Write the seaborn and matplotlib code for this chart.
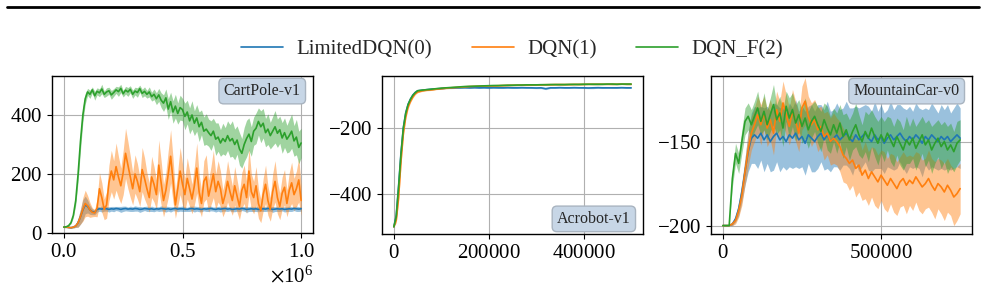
# learning curves for three gym environments, mean with shaded spread
import numpy as np
import seaborn as sns
from matplotlib import pyplot as plt
from matplotlib.lines import Line2D

labels = ["LimitedDQN(0)", "DQN(1)", "DQN_F(2)"]
colors = ["#1f77b4", "#ff7f0e", "#2ca02c"]

# CartPole-v1, one value every 10000 steps
cart_steps = np.arange(0, 1000001, 10000)
cart_blue = [20, 20, 19, 18, 20, 24, 35, 55, 78, 95,
             90, 78, 72, 70, 80, 82, 81, 83, 82, 80,
             82, 81, 83, 82, 80, 82, 83, 81, 82, 81,
             83, 82, 80, 81, 83, 82, 81, 82, 80, 82,
             81, 83, 82, 81, 82, 80, 82, 83, 81, 82,
             82, 81, 80, 82, 83, 81, 82, 81, 80, 82,
             81, 82, 83, 81, 80, 82, 81, 82, 83, 81,
             82, 80, 81, 82, 81, 83, 82, 80, 81, 82,
             81, 82, 80, 81, 82, 81, 83, 82, 80, 81,
             82, 81, 82, 80, 81, 82, 81, 83, 82, 81,
             82]
cart_blue_sd = [2, 2, 2, 2, 3, 5, 15, 25, 35, 30,
                22, 15, 10, 8, 9, 8, 10, 9, 8, 9,
                8, 9, 7, 8, 10, 9, 8, 7, 9, 8,
                9, 8, 10, 8, 7, 9, 8, 9, 8, 7,
                8, 9, 8, 10, 8, 9, 7, 8, 9, 8,
                9, 8, 7, 9, 8, 10, 8, 9, 8, 7,
                8, 9, 8, 7, 9, 8, 10, 8, 9, 8,
                7, 8, 9, 8, 9, 7, 8, 10, 8, 9,
                8, 9, 8, 7, 9, 8, 9, 8, 10, 8,
                9, 8, 7, 9, 8, 9, 8, 7, 9, 8,
                8]
cart_orange = [20, 20, 19, 18, 20, 24, 35, 55, 80, 100,
               92, 78, 70, 68, 85, 150, 120, 80, 95, 170,
               210, 180, 225, 190, 160, 205, 270, 230, 190, 150,
               200, 175, 140, 215, 185, 150, 120, 190, 165, 130,
               230, 170, 110, 145, 200, 260, 180, 95, 150, 210,
               165, 130, 185, 150, 115, 160, 220, 140, 100, 175,
               190, 125, 160, 200, 140, 175, 150, 100, 130, 175,
               140, 110, 160, 125, 90, 145, 165, 120, 210, 140,
               120, 160, 100, 75, 130, 165, 110, 80, 140, 175,
               120, 90, 135, 155, 100, 145, 170, 130, 150, 180,
               110]
cart_orange_sd = [2, 2, 2, 2, 3, 5, 15, 25, 40, 45,
                  35, 25, 15, 12, 30, 55, 50, 35, 45, 60,
                  70, 65, 80, 70, 60, 75, 85, 80, 70, 55,
                  65, 60, 50, 75, 70, 55, 50, 70, 60, 50,
                  85, 75, 55, 60, 80, 90, 75, 45, 60, 80,
                  70, 55, 70, 60, 50, 65, 85, 60, 45, 70,
                  75, 55, 65, 80, 60, 70, 60, 45, 55, 70,
                  60, 50, 65, 55, 45, 60, 65, 55, 80, 60,
                  55, 65, 50, 40, 55, 65, 50, 40, 60, 70,
                  55, 45, 55, 60, 45, 60, 70, 55, 60, 75,
                  50]
cart_green = [20, 21, 25, 35, 60, 110, 200, 310, 400, 455,
              478, 470, 485, 465, 480, 475, 488, 470, 478, 482,
              468, 476, 485, 479, 490, 472, 484, 478, 487, 470,
              481, 476, 489, 473, 480, 470, 478, 462, 470, 455,
              468, 450, 440, 458, 420, 445, 410, 430, 405, 425,
              418, 395, 410, 380, 400, 372, 390, 360, 375, 345,
              352, 340, 330, 345, 318, 325, 305, 320, 310, 330,
              312, 320, 300, 315, 285, 270, 300, 320, 335, 310,
              345, 355, 378, 360, 372, 340, 352, 330, 345, 360,
              338, 350, 322, 340, 318, 330, 345, 312, 325, 290,
              305]
cart_green_sd = [1, 1, 2, 4, 8, 15, 25, 30, 25, 18,
                 12, 14, 10, 15, 12, 13, 16, 11, 14, 12,
                 15, 13, 12, 16, 14, 11, 13, 15, 12, 14,
                 13, 16, 12, 14, 15, 13, 17, 15, 18, 20,
                 22, 25, 28, 30, 35, 32, 38, 40, 36, 42,
                 38, 45, 40, 44, 48, 42, 45, 50, 42, 48,
                 52, 46, 50, 44, 55, 48, 45, 52, 47, 50,
                 55, 60, 52, 48, 55, 50, 58, 62, 55, 50,
                 48, 52, 46, 54, 50, 48, 52, 45, 50, 55,
                 48, 46, 52, 50, 47, 55, 58, 52, 60, 55,
                 50]

# Acrobot-v1, finer steps during the early rise
acro_steps = np.r_[np.arange(0, 50001, 5000), np.arange(60000, 500001, 10000)]
acro_blue = [-500, -465, -375, -275, -198, -153, -127, -111, -99, -91, -86,
             -84, -82.5, -81, -80, -79, -78, -77.5, -77, -77, -76.5,
             -77, -76.5, -77, -76.5, -77, -76.5, -77, -77, -76.5, -77,
             -77, -76.5, -77, -77, -77.5, -77, -79.5, -77, -77, -76.5,
             -77, -77, -76.5, -77, -77, -77.5, -77, -76.5, -77, -77,
             -77, -77, -76.5, -77, -77]
acro_blue_sd = [0, 6, 10, 10, 8, 6, 4, 3, 3, 2, 2,
                2, 2, 1.5, 2, 2, 1.5, 2, 2, 1.5, 2,
                2, 1.5, 2, 2, 2.5, 2, 1.5, 2, 2, 2,
                2, 2, 1.5, 2, 2, 2.5, 3, 2, 2, 1.5,
                2, 2, 2, 1.5, 2, 2, 2.5, 2, 2, 1.5,
                2, 2, 1.5, 2, 2]
acro_orange = [-500, -480, -410, -300, -215, -165, -135, -118, -105, -95, -90,
               -86, -84, -83, -81, -79.5, -78, -77, -76, -75, -74,
               -73, -72.5, -72, -71.5, -71, -71, -70.5, -70, -69.5, -69,
               -69, -68.5, -68.5, -68, -68, -68, -67.5, -67.5, -67, -67,
               -67, -67, -66.5, -66.5, -66.5, -66, -66, -66, -66, -66,
               -66, -66, -65.5, -66, -66]
acro_orange_sd = [0, 8, 14, 14, 10, 8, 6, 4, 3, 3, 2,
                  2, 2, 2, 1.5, 2, 2, 1.5, 2, 2, 1.5,
                  2, 2, 1.5, 2, 2, 2, 1.5, 2, 2, 2,
                  1.5, 2, 2, 2, 1.5, 2, 2, 1.5, 2, 2,
                  2, 1.5, 2, 2, 1.5, 2, 2, 2, 1.5, 2,
                  2, 2, 1.5, 2, 2]
acro_green = [-500, -470, -380, -280, -200, -155, -128, -112, -100, -92, -86,
              -84, -82.5, -81, -79.5, -78, -77, -76, -75, -74, -73,
              -72.5, -72, -71.5, -71, -70.5, -70, -70, -69.5, -69, -69,
              -68.5, -68.5, -68, -68, -68, -67.5, -67.5, -67, -67, -67,
              -67, -66.5, -66.5, -66.5, -66, -66, -66, -66, -66, -65.5,
              -65.5, -66, -65.5, -65.5, -65.5]
acro_green_sd = [0, 6, 10, 10, 8, 6, 4, 3, 3, 2, 2,
                 2, 1.5, 2, 2, 1.5, 2, 2, 1.5, 2, 2,
                 1.5, 2, 2, 2, 1.5, 2, 2, 1.5, 2, 2,
                 2, 1.5, 2, 2, 2, 1.5, 2, 2, 1.5, 2,
                 2, 2, 1.5, 2, 2, 1.5, 2, 2, 2, 1.5,
                 2, 2, 1.5, 2, 2]

# MountainCar-v0, one value every 10000 steps
car_steps = np.arange(0, 750001, 10000)
car_blue = [-200, -200, -200, -199, -196, -190, -180, -168, -156, -148,
            -146, -148, -145, -149, -146, -150, -147, -145, -149, -147,
            -150, -146, -148, -145, -149, -147, -151, -146, -148, -150,
            -147, -145, -149, -146, -150, -148, -146, -149, -147, -145,
            -148, -150, -146, -149, -147, -145, -148, -150, -146, -149,
            -147, -151, -148, -146, -149, -147, -145, -148, -150, -147,
            -149, -146, -148, -151, -147, -149, -146, -148, -150, -147,
            -149, -147, -150, -148, -146, -148]
car_blue_sd = [0, 0, 0, 1, 2, 4, 6, 8, 12, 15,
               17, 18, 16, 19, 17, 18, 20, 17, 19, 18,
               17, 19, 18, 20, 17, 18, 19, 17, 20, 18,
               19, 17, 18, 20, 18, 17, 19, 18, 17, 19,
               18, 20, 17, 19, 18, 17, 19, 18, 20, 17,
               19, 18, 17, 20, 18, 19, 17, 18, 19, 18,
               17, 19, 18, 20, 17, 18, 19, 18, 17, 19,
               18, 19, 17, 18, 19, 18]
car_orange = [-200, -200, -200, -199, -197, -191, -182, -168, -155, -145,
              -140, -134, -140, -133, -142, -137, -145, -131, -138, -127,
              -134, -141, -132, -138, -145, -130, -126, -135, -140, -137,
              -143, -141, -147, -145, -150, -148, -150, -153, -158, -160,
              -163, -161, -166, -164, -170, -167, -172, -168, -171, -174,
              -170, -173, -176, -172, -175, -178, -174, -172, -176, -173,
              -175, -171, -174, -177, -175, -172, -176, -179, -175, -177,
              -180, -176, -179, -183, -181, -178]
car_orange_sd = [0, 0, 0, 1, 2, 4, 6, 8, 10, 10,
                 10, 11, 12, 10, 11, 12, 13, 11, 12, 13,
                 12, 11, 13, 12, 11, 13, 14, 12, 13, 12,
                 13, 12, 14, 13, 14, 15, 14, 15, 16, 15,
                 16, 15, 17, 16, 15, 17, 16, 15, 17, 16,
                 15, 17, 16, 15, 17, 16, 15, 16, 17, 15,
                 16, 15, 17, 16, 15, 17, 16, 17, 15, 16,
                 17, 16, 15, 17, 16, 15]
car_green = [-200, -200, -200, -172, -157, -163, -150, -138, -135, -140,
             -135, -130, -138, -132, -140, -134, -128, -137, -133, -142,
             -129, -136, -131, -139, -134, -141, -136, -143, -138, -135,
             -140, -144, -137, -142, -146, -140, -145, -139, -147, -143,
             -149, -144, -140, -146, -150, -144, -148, -142, -147, -151,
             -146, -150, -145, -149, -153, -147, -151, -155, -149, -152,
             -148, -154, -150, -146, -152, -149, -155, -151, -148, -153,
             -150, -155, -152, -156, -151, -149]
car_green_sd = [0, 0, 0, 5, 6, 6, 7, 8, 8, 9,
                9, 10, 8, 11, 9, 10, 12, 9, 10, 11,
                9, 12, 10, 11, 9, 10, 12, 11, 10, 9,
                11, 12, 10, 13, 11, 10, 12, 11, 13, 10,
                12, 11, 13, 12, 10, 12, 14, 11, 12, 13,
                11, 12, 10, 13, 12, 11, 13, 12, 14, 11,
                12, 13, 12, 11, 13, 12, 14, 12, 11, 13,
                12, 14, 13, 12, 13, 12]


def draw_panel(ax, steps, means, sds):
    # one shaded band plus mean line per method
    for mean, sd, c in zip(means, sds, colors):
        mean = np.asarray(mean, dtype=float)
        sd = np.asarray(sd, dtype=float)
        ax.fill_between(steps, mean - sd, mean + sd, color=c, alpha=0.45, lw=0)
        sns.lineplot(x=steps, y=mean, ax=ax, color=c, linewidth=1.2)


def env_label(ax, text, y, va):
    ax.text(0.953, y, text, transform=ax.transAxes, ha="right", va=va,
            fontsize=11.5, zorder=5,
            bbox=dict(boxstyle="round,pad=0.3", facecolor="#c7d6e6",
                      edgecolor="#a9b4c0", linewidth=1))


sns.set_style("whitegrid", {"axes.edgecolor": "black", "grid.color": "#b0b0b0",
                            "xtick.bottom": True, "ytick.left": True,
                            "xtick.color": "black", "ytick.color": "black"})
plt.rcParams["font.family"] = ["Liberation Serif", "DejaVu Serif"]
plt.rcParams["mathtext.fontset"] = "stix"
plt.rcParams["axes.formatter.use_mathtext"] = True
plt.rcParams["axes.linewidth"] = 1.0

fig, (ax1, ax2, ax3) = plt.subplots(1, 3, figsize=(9.85, 2.86), dpi=100)
ax1.set_position([52 / 985, 1 - 233 / 286, 261 / 985, 157 / 286])
ax2.set_position([382 / 985, 1 - 234 / 286, 261 / 985, 158 / 286])
ax3.set_position([711 / 985, 1 - 234 / 286, 261 / 985, 158 / 286])

draw_panel(ax1, cart_steps, [cart_blue, cart_orange, cart_green],
           [cart_blue_sd, cart_orange_sd, cart_green_sd])
draw_panel(ax2, acro_steps, [acro_blue, acro_orange, acro_green],
           [acro_blue_sd, acro_orange_sd, acro_green_sd])
draw_panel(ax3, car_steps, [car_blue, car_orange, car_green],
           [car_blue_sd, car_orange_sd, car_green_sd])

ax1.set_ylim(0, 532)
ax1.set_xticks([0, 500000, 1000000])
ax1.set_yticks([0, 200, 400])
ax2.set_ylim(-522, -41)
ax2.set_xticks([0, 200000, 400000])
ax2.set_yticks([-400, -200])
ax3.set_ylim(-205, -111)
ax3.set_xticks([0, 500000])
ax3.set_yticks([-200, -150])

for ax in (ax1, ax2, ax3):
    ax.grid(True, color="#b0b0b0", linewidth=0.8)
    ax.tick_params(labelsize=15, length=3.5, width=0.8)
    ax.xaxis.get_offset_text().set_fontsize(15)
    ax.set_xlabel("")
    ax.set_ylabel("")
    for s in ax.spines.values():
        s.set_color("black")

env_label(ax1, "CartPole-v1", 0.955, "top")
env_label(ax2, "Acrobot-v1", 0.045, "bottom")
env_label(ax3, "MountainCar-v0", 0.955, "top")

handles = [Line2D([], [], color=c, lw=1.2) for c in colors]
fig.legend(handles, labels, loc="center", bbox_to_anchor=(0.52, 0.826), ncol=3,
           frameon=False, fontsize=15, handlelength=2.0, handletextpad=0.65,
           columnspacing=1.9)

# page rule above the figure
fig.add_artist(Line2D([7 / 985, 979 / 985], [1 - 7 / 286, 1 - 7 / 286],
                      color="black", lw=2, transform=fig.transFigure))

fig.savefig("out.png", dpi=100)
